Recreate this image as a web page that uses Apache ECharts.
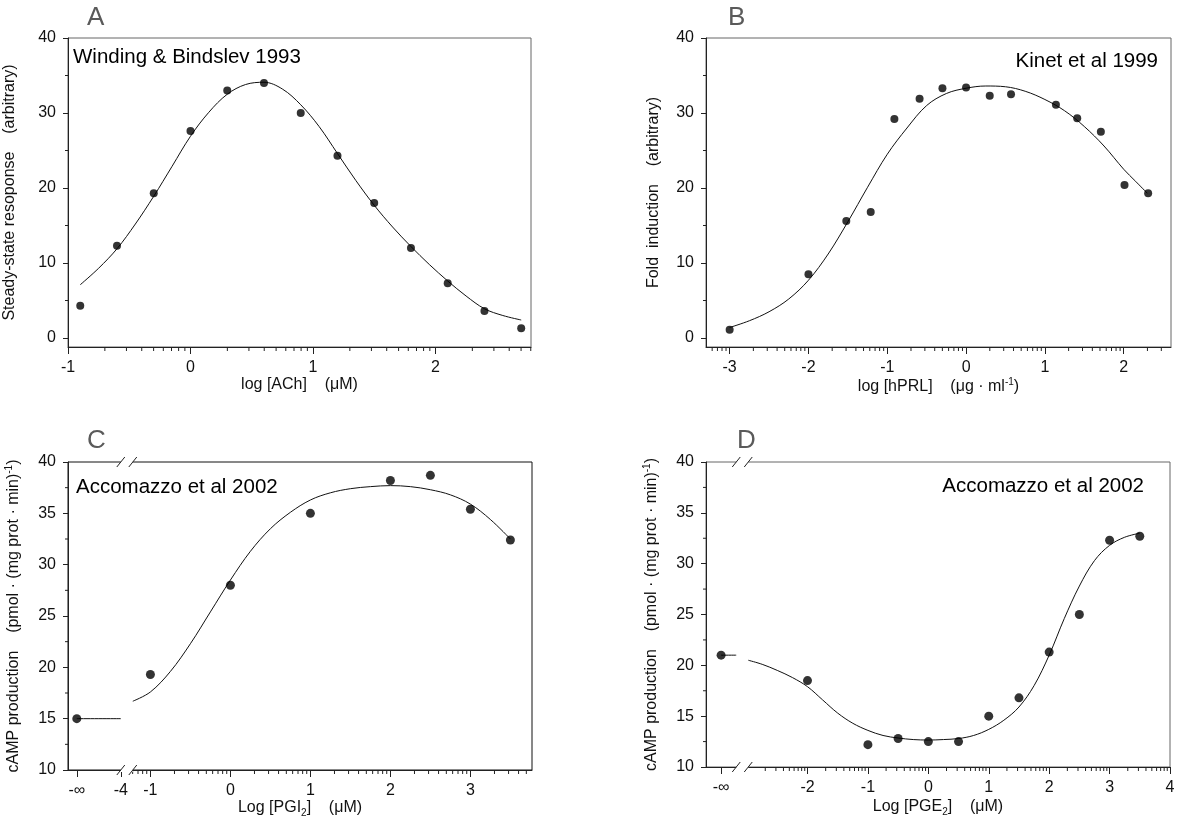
<!DOCTYPE html>
<html><head><meta charset="utf-8">
<script src="https://cdn.jsdelivr.net/npm/echarts@6/dist/echarts.min.js"></script>
<style>html,body{margin:0;padding:0;background:#fff}#c{width:1200px;height:823px}</style>
</head><body><div id="c"></div>
<script>
// ---------- Panel A : Winding & Bindslev 1993 ----------
const aPointX = [-0.9, -0.6, -0.3, 0, 0.3, 0.6, 0.9, 1.2, 1.5, 1.8, 2.1, 2.4, 2.7];
const aPointY = [4.3, 12.3, 19.3, 27.6, 33.0, 34.0, 30.0, 24.3, 18.0, 12.0, 7.3, 3.6, 1.3];
const aCurveX = [-0.9, -0.75, -0.6, -0.45, -0.3, -0.15, 0, 0.15, 0.3, 0.45, 0.6, 0.75, 0.9, 1.05, 1.2, 1.35, 1.5, 1.65, 1.8, 1.95, 2.1, 2.25, 2.4, 2.55, 2.7];
const aCurveY = [7.1, 9.3, 11.9, 15.2, 18.9, 22.9, 26.9, 30.1, 32.5, 33.8, 34.1, 33.2, 31.1, 28.2, 24.6, 21.0, 17.7, 14.8, 12.2, 9.8, 7.6, 5.6, 3.9, 3.0, 2.4];
const aXTicks = [-1, 0, 1, 2];
const aYTicks = [0, 10, 20, 30, 40];
const aYMinor = [5, 15, 25, 35];

// ---------- Panel B : Kinet et al 1999 ----------
const bPointX = [-3.0, -2.0, -1.52, -1.21, -0.91, -0.59, -0.30, 0.0, 0.30, 0.57, 1.14, 1.41, 1.71, 2.01, 2.31];
const bPointY = [1.1, 8.5, 15.6, 16.8, 29.2, 31.9, 33.3, 33.4, 32.3, 32.5, 31.1, 29.3, 27.5, 20.4, 19.3];
const bCurveX = [-3.0, -2.75, -2.5, -2.25, -2.0, -1.75, -1.5, -1.25, -1.0, -0.75, -0.5, -0.25, 0, 0.25, 0.5, 0.75, 1.0, 1.25, 1.5, 1.75, 2.0, 2.15, 2.3];
const bCurveY = [1.4, 2.3, 3.5, 5.2, 7.7, 11.2, 15.5, 20.1, 24.5, 28.0, 31.0, 32.6, 33.3, 33.6, 33.5, 32.9, 31.8, 30.3, 28.2, 25.6, 22.5, 20.9, 19.3];
const bXTicks = [-3, -2, -1, 0, 1, 2];
const bYTicks = [0, 10, 20, 30, 40];
const bYMinor = [5, 15, 25, 35];

// ---------- Panel C : Accomazzo et al 2002 (PGI2) ----------
const cPointX = ['-inf', -1, 0, 1, 2, 2.5, 3, 3.5];
const cPointY = [15.0, 19.3, 28.0, 35.0, 38.2, 38.7, 35.4, 32.4];
const cBaseY = 15.0;              // fitted response at -inf
const cCurveX = [-1.22, -1.0, -0.75, -0.5, -0.25, 0, 0.25, 0.5, 0.75, 1.0, 1.25, 1.5, 1.75, 2.0, 2.25, 2.5, 2.75, 3.0, 3.25, 3.5];
const cCurveY = [16.7, 17.6, 19.6, 22.3, 25.4, 28.5, 31.3, 33.5, 35.1, 36.3, 37.0, 37.4, 37.6, 37.7, 37.6, 37.3, 36.8, 35.9, 34.4, 32.5];
const cXTicks = [-1, 0, 1, 2, 3];
const cYTicks = [10, 15, 20, 25, 30, 35, 40];
const cYMinor = [12.5, 17.5, 22.5, 27.5, 32.5, 37.5];

// ---------- Panel D : Accomazzo et al 2002 (PGE2) ----------
const dPointX = ['-inf', -2, -1, -0.5, 0, 0.5, 1, 1.5, 2, 2.5, 3, 3.5];
const dPointY = [21.0, 18.5, 12.2, 12.8, 12.5, 12.5, 15.0, 16.8, 21.3, 25.0, 32.3, 32.7];
const dBaseY = 21.0;
const dCurveX = [-2.98, -2.75, -2.5, -2.25, -2.0, -1.75, -1.5, -1.25, -1.0, -0.75, -0.5, -0.25, 0, 0.25, 0.5, 0.75, 1.0, 1.25, 1.5, 1.75, 2.0, 2.25, 2.5, 2.75, 3.0, 3.25, 3.5];
const dCurveY = [20.5, 20.1, 19.5, 18.8, 17.9, 16.6, 15.3, 14.3, 13.6, 13.1, 12.85, 12.7, 12.65, 12.7, 12.8, 13.1, 13.7, 14.6, 15.9, 18.0, 21.0, 24.6, 27.8, 30.3, 31.8, 32.6, 33.0];
const dXTicks = [-2, -1, 0, 1, 2, 3, 4];
const dYTicks = [10, 15, 20, 25, 30, 35, 40];
const dYMinor = [12.5, 17.5, 22.5, 27.5, 32.5, 37.5];

// ---------- layout (broken-axis positions on the drawn scale) ----------
const LAYOUT = {
  C: { negInf: -1.92, minus4: -1.37, breakAt: -1.295, minorFrom: -1.25 },
  D: { negInf: -3.43, segEnd: -3.18, breakAt: -3.08, minorFrom: -2.92 }
};
const FONT = '"Liberation Sans", Arial, Helvetica, sans-serif';
const AX = '#222', FRAME = '#666';

function logMinor(from, to) {
  const out = [];
  for (let k = Math.floor(from) - 1; k <= Math.ceil(to); k++) {
    for (let m = 2; m <= 9; m++) {
      const v = k + Math.log10(m);
      if (v >= from - 1e-9 && v <= to + 1e-9) out.push(v);
    }
  }
  return out;
}
function zip(xs, ys, mapX) { return xs.map((x, i) => [mapX ? mapX(x) : x, ys[i]]); }

const grids = [
  { left: 68, top: 38, width: 463, height: 309 },
  { left: 706, top: 38, width: 465, height: 309 },
  { left: 68, top: 462, width: 464, height: 308 },
  { left: 706, top: 462, width: 464, height: 305 }
].map((g, i) => Object.assign(g, { show: true, borderColor: i === 2 ? '#111' : FRAME, borderWidth: 1, backgroundColor: 'transparent' }));

const xs = [], ys = [], series = [];
const NS = 16;
const nameStyle = { color: '#111', fontFamily: FONT, fontSize: NS, rich: {
  n: { fontSize: NS, fontFamily: FONT, color: '#111', lineHeight: 20 },
  s: { fontSize: 10, fontFamily: FONT, color: '#111', lineHeight: 10, verticalAlign: 'top' },
  b: { fontSize: 10, fontFamily: FONT, color: '#111', lineHeight: 10, verticalAlign: 'bottom' }
}};
const labelStyle = { fontSize: 16, color: '#111', fontFamily: FONT };

// minor ticks drawn through the axes' own scales
function minorTicks(gi, xVals, yVals, xmin, ymin) {
  const data = xVals.map(v => [v, ymin, 0]).concat(yVals.map(v => [xmin, v, 1]));
  return { type: 'custom', xAxisIndex: gi, yAxisIndex: gi, coordinateSystem: 'cartesian2d', clip: false, silent: true, z: 1,
    data,
    renderItem: (params, api) => {
      const p = api.coord([api.value(0), api.value(1)]);
      const isY = api.value(2) === 1;
      return { type: 'line', shape: isY ? { x1: p[0] - 3, y1: p[1], x2: p[0], y2: p[1] } : { x1: p[0], y1: p[1], x2: p[0], y2: p[1] + 4 },
        style: { stroke: AX, lineWidth: 1 } };
    } };
}

function addAxes(gi, cfg) {
  xs.push({ type: 'value', gridIndex: gi, min: cfg.xmin, max: cfg.xmax, position: 'bottom',
    axisLine: { show: true, onZero: false, lineStyle: { color: AX, width: 1 } },
    axisTick: { show: true, length: 7, customValues: cfg.xMajor, lineStyle: { color: AX } },
    axisLabel: Object.assign({ customValues: cfg.xMajor, margin: 13, formatter: cfg.xFmt || (v => String(v)) }, labelStyle),
    splitLine: { show: false },
    name: cfg.xName, nameLocation: 'middle', nameGap: cfg.xGap, nameTextStyle: nameStyle });
  ys.push({ type: 'value', gridIndex: gi, min: cfg.ymin, max: 40, position: 'left',
    axisLine: { show: true, onZero: false, lineStyle: { color: AX, width: 1 } },
    axisTick: { show: true, length: 5, customValues: cfg.yMajor, lineStyle: { color: AX } },
    axisLabel: Object.assign({ customValues: cfg.yMajor, margin: 12 }, labelStyle),
    splitLine: { show: false },
    name: cfg.yName, nameLocation: 'middle', nameGap: cfg.yGap, nameTextStyle: nameStyle });
  series.push(minorTicks(gi, cfg.xMinor, cfg.yMinor, cfg.xmin, cfg.ymin));
}

function curve(gi, data) {
  return { type: 'line', xAxisIndex: gi, yAxisIndex: gi, data, smooth: 0.35, showSymbol: false, symbol: 'none',
    lineStyle: { color: '#111', width: 1 }, z: 3, silent: true };
}
function dots(gi, data, size) {
  return { type: 'scatter', xAxisIndex: gi, yAxisIndex: gi, data, symbol: 'circle', symbolSize: size,
    itemStyle: { color: '#000' }, z: 4, silent: true };
}
function breakMarks(gi, pos, ymin) {
  return { type: 'custom', xAxisIndex: gi, yAxisIndex: gi, coordinateSystem: 'cartesian2d', clip: false, silent: true, z: 10,
    data: [[pos, ymin]],
    renderItem: (params, api) => {
      const x = api.value(0), ch = [];
      for (const yv of [ymin, 40]) {
        const p = api.coord([x, yv]);
        ch.push({ type: 'rect', shape: { x: p[0] - 6, y: p[1] - 2, width: 12, height: 4 }, style: { fill: '#fff' } });
        ch.push({ type: 'line', shape: { x1: p[0] - 10, y1: p[1] + 5, x2: p[0] - 2, y2: p[1] - 5 }, style: { stroke: AX, lineWidth: 1 } });
        ch.push({ type: 'line', shape: { x1: p[0] + 2, y1: p[1] + 5, x2: p[0] + 10, y2: p[1] - 5 }, style: { stroke: AX, lineWidth: 1 } });
      }
      return { type: 'group', children: ch };
    } };
}

// A
addAxes(0, { xmin: -1, xmax: 2.78, ymin: -1.2, xMajor: aXTicks, xMinor: logMinor(-1, 2.78), yMajor: aYTicks, yMinor: aYMinor,
  xName: '{n|log [ACh]    (\u03bcM)}', xGap: 27, yName: 'Steady-state resoponse    (arbitrary)', yGap: 50 });
series.push(curve(0, zip(aCurveX, aCurveY)), dots(0, zip(aPointX, aPointY), 8));

// B
addAxes(1, { xmin: -3.3, xmax: 2.6, ymin: -1.2, xMajor: bXTicks, xMinor: logMinor(-3.3, 2.6), yMajor: bYTicks, yMinor: bYMinor,
  xName: '{n|log [hPRL]    (\u03bcg \u00b7 ml}{s|-1}{n|)}', xGap: 26, yName: 'Fold  induction    (arbitrary)', yGap: 44 });
series.push(curve(1, zip(bCurveX, bCurveY)), dots(1, zip(bPointX, bPointY), 8));

// C
const mapC = x => x === '-inf' ? LAYOUT.C.negInf : x;
addAxes(2, { xmin: -2.03, xmax: 3.77, ymin: 10,
  xMajor: [LAYOUT.C.negInf, LAYOUT.C.minus4].concat(cXTicks),
  xFmt: v => Math.abs(v - LAYOUT.C.negInf) < 1e-6 ? '-\u221e' : (Math.abs(v - LAYOUT.C.minus4) < 1e-6 ? '-4' : String(v)),
  xMinor: logMinor(LAYOUT.C.minorFrom, 3.77), yMajor: cYTicks, yMinor: cYMinor,
  xName: '{n|Log [PGI}{b|2}{n|]    (\u03bcM)}', xGap: 28,
  yName: '{n|cAMP production    (pmol \u00b7 (mg prot \u00b7 min)}{s|-1}{n|)}', yGap: 44 });
series.push(
  curve(2, [[LAYOUT.C.negInf, cBaseY], [LAYOUT.C.minus4, cBaseY]]),
  curve(2, zip(cCurveX, cCurveY)),
  dots(2, zip(cPointX, cPointY, mapC), 9),
  breakMarks(2, LAYOUT.C.breakAt, 10));

// D
const mapD = x => x === '-inf' ? LAYOUT.D.negInf : x;
addAxes(3, { xmin: -3.68, xmax: 4, ymin: 10,
  xMajor: [LAYOUT.D.negInf].concat(dXTicks),
  xFmt: v => Math.abs(v - LAYOUT.D.negInf) < 1e-6 ? '-\u221e' : String(v),
  xMinor: logMinor(LAYOUT.D.minorFrom, 4), yMajor: dYTicks, yMinor: dYMinor,
  xName: '{n|Log [PGE}{b|2}{n|]    (\u03bcM)}', xGap: 30,
  yName: '{n|cAMP production    (pmol \u00b7 (mg prot \u00b7 min)}{s|-1}{n|)}', yGap: 44 });
series.push(
  curve(3, [[LAYOUT.D.negInf, dBaseY], [LAYOUT.D.segEnd, dBaseY]]),
  curve(3, zip(dCurveX, dCurveY)),
  dots(3, zip(dPointX, dPointY, mapD), 9),
  breakMarks(3, LAYOUT.D.breakAt, 10));

const letter = (t, left, top) => ({ text: t, left, top, padding: 0, textStyle: { fontSize: 26, fontWeight: 'normal', color: '#5a5a5a', fontFamily: FONT } });
const note = (t, pos) => Object.assign({ text: t, padding: 0, textStyle: { fontSize: 20.5, fontWeight: 'normal', color: '#000', fontFamily: FONT } }, pos);

const chart = echarts.init(document.getElementById('c'), null, { renderer: 'canvas' });
chart.setOption({
  animation: false,
  backgroundColor: '#fff',
  title: [
    letter('A', 87, 5), letter('B', 728, 5), letter('C', 87, 428), letter('D', 737, 428),
    note('Winding & Bindslev 1993', { left: 73, top: 47 }),
    note('Kinet et al 1999', { right: 42, top: 51 }),
    note('Accomazzo et al 2002', { left: 76, top: 477 }),
    note('Accomazzo et al 2002', { right: 56, top: 476 })
  ],
  grid: grids, xAxis: xs, yAxis: ys, series
});
</script></body></html>
